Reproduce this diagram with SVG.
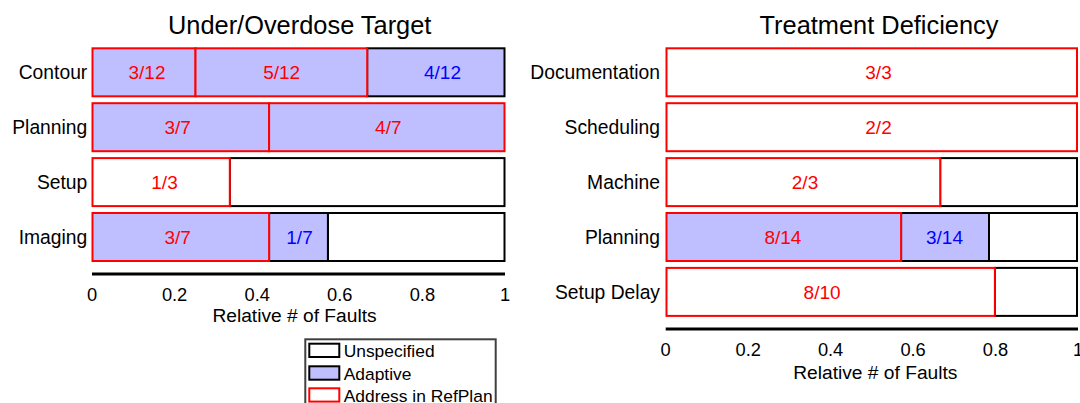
<svg xmlns="http://www.w3.org/2000/svg" width="1080" height="403" viewBox="0 0 1080 403">
<style>
text{font-family:"Liberation Sans",Arial,sans-serif;}
.title{font-size:25.4px;fill:#000;text-anchor:middle;}
.cat{font-size:19.3px;fill:#000;text-anchor:end;}
.lab{font-size:19px;text-anchor:middle;}
.r{fill:#ff0000;}
.b{fill:#0000ff;}
.tick{font-size:18.3px;fill:#000;text-anchor:middle;}
.xl{font-size:19.2px;fill:#000;text-anchor:middle;}
.leg{font-size:17.4px;fill:#000;}
.sk{fill:#ffffff;stroke:#000;stroke-width:2;}
.sa{fill:#bfbfff;stroke:#000;stroke-width:2;}
.rw{fill:#ffffff;stroke:#ff0000;stroke-width:2;}
.ra{fill:#bfbfff;stroke:#ff0000;stroke-width:2;}
.axis{stroke:#000;stroke-width:3;}
</style>

<!-- Left chart -->
<g id="left-chart">
  <text class="title" x="299.7" y="34">Under/Overdose Target</text>
  <g id="left-contour">
    <rect class="sa" x="367.2" y="48.3" width="137.3" height="48"/>
    <rect class="ra" x="92.5" y="48.3" width="103" height="48"/>
    <rect class="ra" x="195.5" y="48.3" width="171.7" height="48"/>
    <text class="cat" x="87.3" y="79.3">Contour</text>
    <text class="lab r" x="147" y="79.3">3/12</text>
    <text class="lab r" x="281.7" y="79.3">5/12</text>
    <text class="lab b" x="442.5" y="79.3">4/12</text>
  </g>
  <g id="left-planning">
    <rect class="ra" x="92.5" y="103.2" width="176.6" height="48"/>
    <rect class="ra" x="269.1" y="103.2" width="235.4" height="48"/>
    <text class="cat" x="87.3" y="134.2">Planning</text>
    <text class="lab r" x="177.7" y="134.2">3/7</text>
    <text class="lab r" x="388.3" y="134.2">4/7</text>
  </g>
  <g id="left-setup">
    <rect class="sk" x="229.8" y="158.1" width="274.7" height="48"/>
    <rect class="rw" x="92.5" y="158.1" width="137.3" height="48"/>
    <text class="cat" x="87.3" y="189.1">Setup</text>
    <text class="lab r" x="164.5" y="189.1">1/3</text>
  </g>
  <g id="left-imaging">
    <rect class="sk" x="327.9" y="213" width="176.6" height="48"/>
    <rect class="sa" x="269.1" y="213" width="58.8" height="48"/>
    <rect class="ra" x="92.5" y="213" width="176.6" height="48"/>
    <text class="cat" x="87.3" y="244">Imaging</text>
    <text class="lab r" x="177.7" y="244">3/7</text>
    <text class="lab b" x="299.5" y="244">1/7</text>
  </g>
  <g id="left-axis">
    <line class="axis" x1="92" y1="274" x2="505" y2="274"/>
    <text class="tick" x="92" y="300.7">0</text>
    <text class="tick" x="174.6" y="300.7">0.2</text>
    <text class="tick" x="257.2" y="300.7">0.4</text>
    <text class="tick" x="339.8" y="300.7">0.6</text>
    <text class="tick" x="422.4" y="300.7">0.8</text>
    <text class="tick" x="505" y="300.7">1</text>
    <text class="xl" x="294.5" y="321.7">Relative # of Faults</text>
  </g>
</g>

<!-- Legend -->
<g id="legend">
  <rect x="305.3" y="339.3" width="190.4" height="80" fill="#ffffff" stroke="#404040" stroke-width="2"/>
  <rect class="sk" x="309.3" y="343.7" width="30" height="13.3"/>
  <text class="leg" x="343.7" y="357.3">Unspecified</text>
  <rect class="sa" x="309.3" y="366.3" width="30" height="13.4"/>
  <text class="leg" x="343.7" y="379.6">Adaptive</text>
  <rect class="rw" x="309.3" y="388.3" width="30" height="13.3"/>
  <text class="leg" x="343.7" y="401.8">Address in RefPlan</text>
</g>

<!-- Right chart -->
<g id="right-chart">
  <text class="title" x="879" y="34">Treatment Deficiency</text>
  <g id="right-documentation">
    <rect class="rw" x="666.5" y="48.3" width="410.5" height="48"/>
    <text class="cat" x="660" y="79.3">Documentation</text>
    <text class="lab r" x="878.5" y="79.3">3/3</text>
  </g>
  <g id="right-scheduling">
    <rect class="rw" x="666.5" y="103.2" width="410.5" height="48"/>
    <text class="cat" x="660" y="134.2">Scheduling</text>
    <text class="lab r" x="878.5" y="134.2">2/2</text>
  </g>
  <g id="right-machine">
    <rect class="sk" x="940.2" y="158.1" width="136.8" height="48"/>
    <rect class="rw" x="666.5" y="158.1" width="273.7" height="48"/>
    <text class="cat" x="660" y="189.1">Machine</text>
    <text class="lab r" x="805" y="189.1">2/3</text>
  </g>
  <g id="right-planning">
    <rect class="sk" x="989" y="213" width="88" height="48"/>
    <rect class="sa" x="901.1" y="213" width="87.9" height="48"/>
    <rect class="ra" x="666.5" y="213" width="234.6" height="48"/>
    <text class="cat" x="660" y="244">Planning</text>
    <text class="lab r" x="782.9" y="244">8/14</text>
    <text class="lab b" x="944.5" y="244">3/14</text>
  </g>
  <g id="right-setupdelay">
    <rect class="sk" x="994.9" y="267.9" width="82.1" height="48"/>
    <rect class="rw" x="666.5" y="267.9" width="328.4" height="48"/>
    <text class="cat" x="660" y="298.9">Setup Delay</text>
    <text class="lab r" x="822.1" y="298.9">8/10</text>
  </g>
  <g id="right-axis">
    <line class="axis" x1="665.7" y1="329" x2="1078" y2="329"/>
    <text class="tick" x="665.7" y="356">0</text>
    <text class="tick" x="748.2" y="356">0.2</text>
    <text class="tick" x="830.6" y="356">0.4</text>
    <text class="tick" x="913.1" y="356">0.6</text>
    <text class="tick" x="995.5" y="356">0.8</text>
    <text class="tick" x="1078" y="356">1</text>
    <text class="xl" x="875.3" y="379">Relative # of Faults</text>
  </g>
</g>

<g id="connectors"></g>
</svg>
